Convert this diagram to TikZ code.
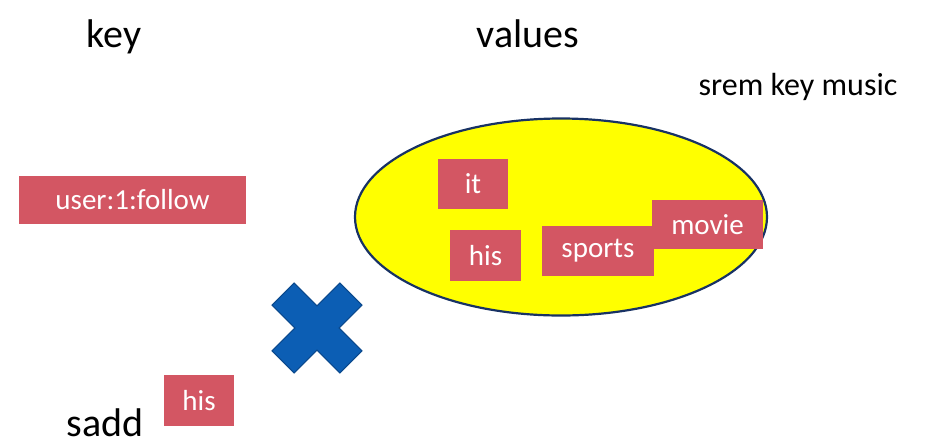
\documentclass[tikz,border=0pt]{standalone}
\usepackage{fontspec}
\setmainfont{Carlito}
\usepackage{xcolor}
\usepackage{tikz}
\usetikzlibrary{shapes.geometric}
\definecolor{memberred}{RGB}{211,86,99}
\definecolor{setyellow}{RGB}{255,255,0}
\definecolor{setnavy}{RGB}{24,50,100}
\definecolor{crossblue}{RGB}{12,94,180}
\definecolor{crossedge}{RGB}{10,72,140}
\tikzset{
  title/.style={anchor=base,inner sep=0pt,font=\fontsize{40}{48}\selectfont},
  member/.style={fill=memberred,text=white,inner sep=0pt,
    font=\fontsize{29}{34}\selectfont},
}

\begin{document}
\begin{tikzpicture}[x=1pt,y=-1pt]
\useasboundingbox (0,0) rectangle (931,445);
% headings
\node[title] (keyhead) at (114,47) {key};
\node[title] (valhead) at (528,47) {values};
\node[anchor=base,inner sep=0pt,font=\fontsize{32}{38}\selectfont] (srem) at (798,95) {srem key music};
% the key
\node[member,minimum width=227pt,minimum height=48pt] (userkey) at (132.5,200) {user:1:follow};
% the set of values
\node[ellipse,draw=setnavy,line width=2.2pt,fill=setyellow,
      minimum width=412pt,minimum height=197pt] (valset) at (561,217) {};
\node[member,minimum width=70pt,minimum height=50pt] (itval) at (473,184) {it};
\node[member,minimum width=71pt,minimum height=51pt] (hisval) at (485.5,255.5) {his};
\node[member,minimum width=112pt,minimum height=50pt] (sportsval) at (598,251) {sports};
\node[member,minimum width=111pt,minimum height=49pt] (movieval) at (707.5,224.5) {movie};
% the refused sadd
\begin{scope}[shift={(317,328)},rotate=45]
  \draw[fill=crossblue,draw=crossedge,line width=1pt]
    (15.6,48) -- (-15.6,48) -- (-15.6,15.6) -- (-48,15.6) -- (-48,-15.6)
    -- (-15.6,-15.6) -- (-15.6,-48) -- (15.6,-48) -- (15.6,-15.6)
    -- (48,-15.6) -- (48,15.6) -- (15.6,15.6) -- cycle;
\end{scope}
\node[member,minimum width=70pt,minimum height=51pt] (hisadd) at (199,400.5) {his};
\node[title] (sadd) at (105,436) {sadd};
\end{tikzpicture}
\end{document}
